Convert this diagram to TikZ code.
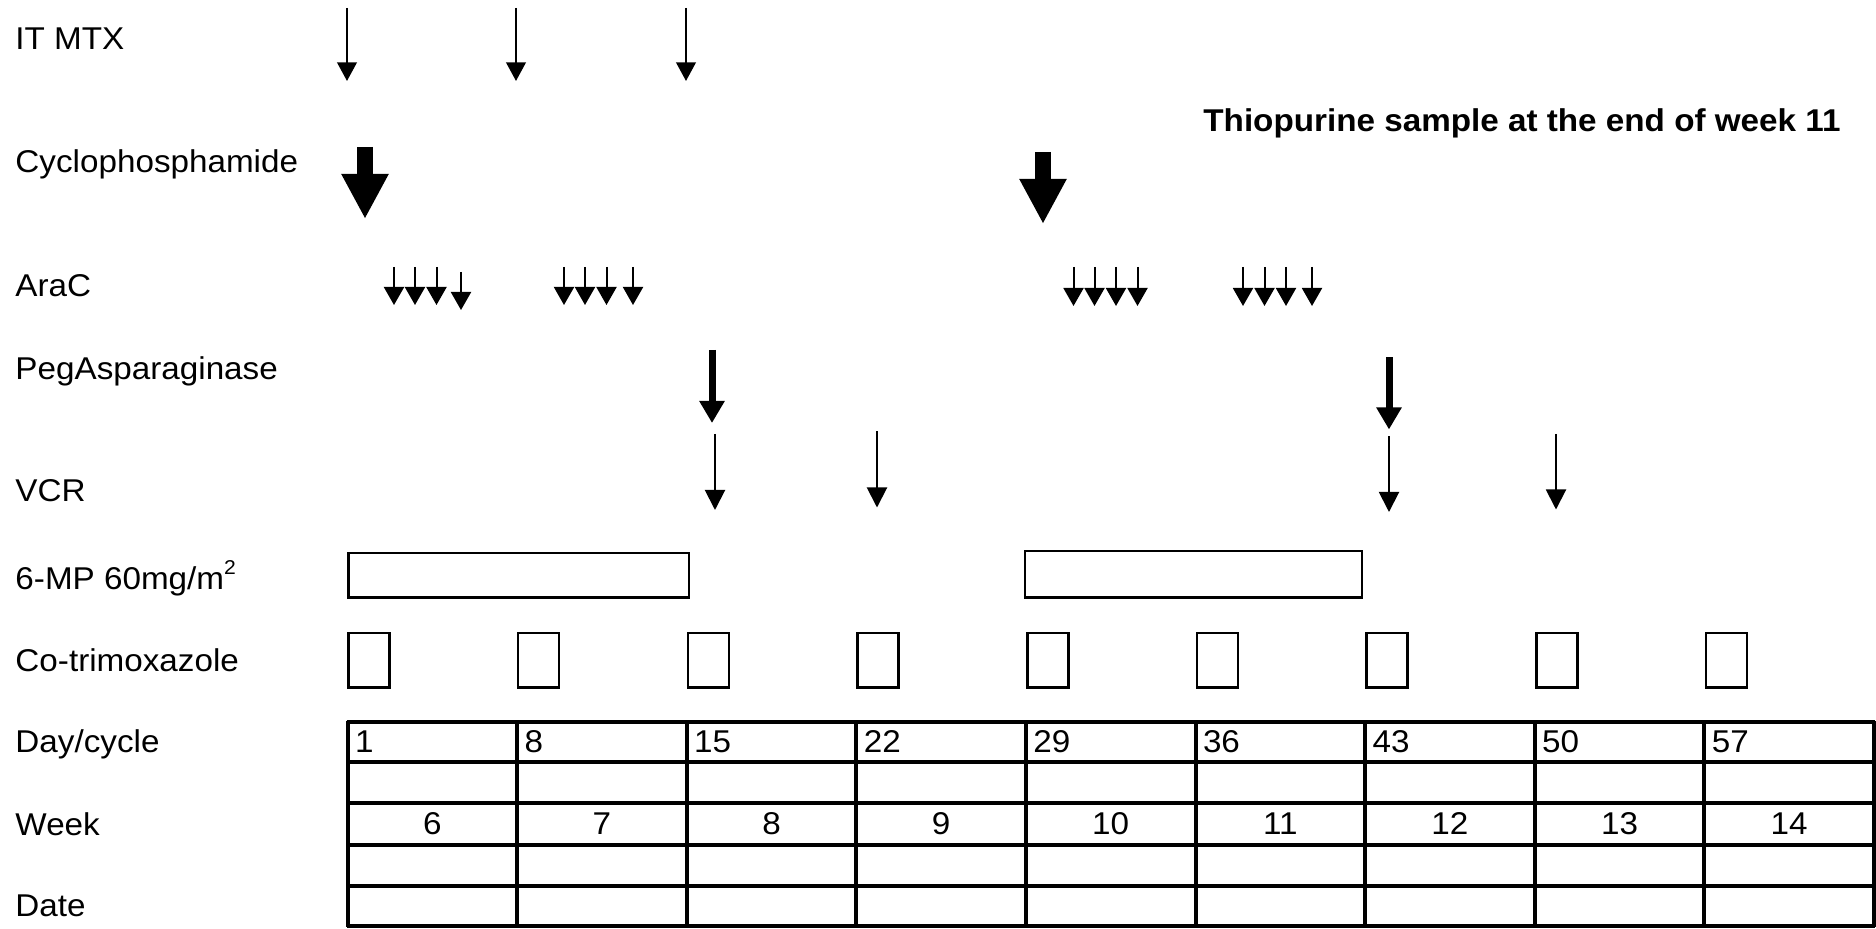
\documentclass[tikz,border=0pt]{standalone}
\usepackage{fontspec}
\setmainfont{Liberation Sans}[FakeStretch=1.055]
\usetikzlibrary{arrows.meta}
\newcommand{\supsmall}[1]{\raisebox{0.5em}{\fontsize{10pt}{10pt}\selectfont #1}}
\begin{document}
\begin{tikzpicture}[x=0.5pt,y=-0.5pt,
  txt/.style={inner sep=0pt,outer sep=0pt,font=\fontsize{15.75pt}{19pt}\selectfont},
  lbl/.style={txt,anchor=base west},
  thinarrow/.style={line width=1pt,-{Triangle[width=9.75pt,length=9.25pt]}},
  aracarrow/.style={line width=1pt,-{Triangle[width=10pt,length=9pt]}},
  vcrarrow/.style={line width=1pt,-{Triangle[width=10pt,length=10pt]}},
  pegarrow/.style={line width=3.5pt,-{Triangle[width=12pt,length=11pt]}},
  bigarrow/.style={line width=8pt,-{Triangle[width=22pt,length=22.5pt]}},
  mpbox/.style={draw,line width=1.25pt},
  cellline/.style={line width=2pt}]
\useasboundingbox (0,0) rectangle (1876,929);

% row labels
\node[lbl] (l1) at (15.5,50) {IT MTX};
\node[lbl] (l2) at (15.5,172.5) {Cyclophosphamide};
\node[lbl] (l3) at (15.5,296.7) {AraC};
\node[lbl] (l4) at (15.5,379.3) {PegAsparaginase};
\node[lbl] (l5) at (15.5,501.7) {VCR};
\node[lbl] (l6) at (15.5,590) {6-MP 60mg/m\supsmall{2}};
\node[lbl] (l7) at (15.5,671.7) {Co-trimoxazole};
\node[lbl] (l8) at (15.5,752.7) {Day/cycle};
\node[lbl] (l9) at (15.5,836) {Week};
\node[lbl] (l10) at (15.5,916.7) {Date};

% title
\node[txt,anchor=base east,font=\fontsize{15.75pt}{19pt}\selectfont\bfseries] (title) at (1840.5,131.7) {Thiopurine sample at the end of week 11};

% IT MTX arrows
\foreach \i/\x in {1/347,2/516,3/686} {
  \coordinate (mtx\i s) at (\x,8);
  \coordinate (mtx\i e) at (\x,81);
  \draw[thinarrow] (mtx\i s) -- (mtx\i e);
}

% Cyclophosphamide arrows
\coordinate (cy1s) at (365,147);
\coordinate (cy1e) at (365,219);
\coordinate (cy2s) at (1043,152);
\coordinate (cy2e) at (1043,224);
\draw[bigarrow] (cy1s) -- (cy1e);
\draw[bigarrow] (cy2s) -- (cy2e);

% AraC arrows
\foreach \i/\x/\t/\b in {1/394/267/305,2/415/267/305,3/436.5/267/305,4/461/272/310,
                         5/564/267/305,6/585/267/305,7/606.5/267/305,8/633/267/305,
                         9/1073.5/267/306,10/1094.5/267/306,11/1116/267/306,12/1137.5/267/306,
                         13/1243/267/306,14/1264.5/267/306,15/1286/267/306,16/1312/267/306} {
  \coordinate (ara\i s) at (\x,\t);
  \coordinate (ara\i e) at (\x,\b);
  \draw[aracarrow] (ara\i s) -- (ara\i e);
}

% PegAsparaginase arrows
\coordinate (peg1s) at (712,350);
\coordinate (peg1e) at (712,423);
\coordinate (peg2s) at (1389,357.5);
\coordinate (peg2e) at (1389,429.5);
\draw[pegarrow] (peg1s) -- (peg1e);
\draw[pegarrow] (peg2s) -- (peg2e);

% VCR arrows
\foreach \i/\x/\t/\b in {1/715/434/510,2/877/431.5/507.5,3/1389/436.5/512,4/1556/434/509.5} {
  \coordinate (vcr\i s) at (\x,\t);
  \coordinate (vcr\i e) at (\x,\b);
  \draw[vcrarrow] (vcr\i s) -- (vcr\i e);
}

% 6-MP boxes
\draw[mpbox] (348.5,553) rectangle (689,597.5);
\draw[mpbox] (1025,551) rectangle (1362,597.5);

% Co-trimoxazole boxes
\foreach \k in {0,...,8} {
  \draw[mpbox] ({348.5+169.7*\k},633) rectangle ({389.5+169.7*\k},687.5);
}

% table
\foreach \y in {722,762.5,803.5,845,886,926.5} {
  \draw[cellline] (346.5,\y) -- (1874.8,\y);
}
\foreach \k in {0,...,9} {
  \draw[cellline] ({347.5+169.6*\k},721) -- ({347.5+169.6*\k},927.5);
}
\foreach \k/\d/\w in {0/1/6,1/8/7,2/15/8,3/22/9,4/29/10,5/36/11,6/43/12,7/50/13,8/57/14} {
  \node[txt,anchor=base west] (day\k) at ({355+169.6*\k},753) {\d};
  \node[txt,anchor=base] (wk\k) at ({432.3+169.6*\k},835) {\w};
}
\end{tikzpicture}
\end{document}
